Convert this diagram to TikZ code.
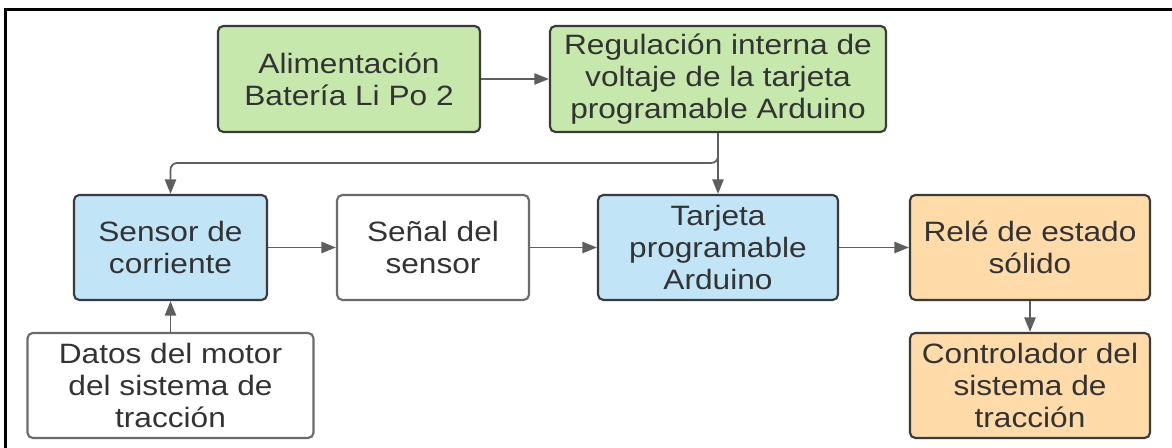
\documentclass[tikz,border=0pt]{standalone}
\usepackage{fontspec}
\setmainfont{Liberation Sans}[FakeStretch=1.13]
\usetikzlibrary{arrows.meta}
\definecolor{gfill}{HTML}{C7E8AC}
\definecolor{bfill}{HTML}{C1E4F7}
\definecolor{ofill}{HTML}{FFDBA9}
\definecolor{dborder}{HTML}{3A3A3A}
\definecolor{lborder}{HTML}{6B6B6B}
\definecolor{arrcol}{HTML}{5E5E5E}
\definecolor{txtcol}{HTML}{333333}
\tikzset{
  box/.style={rectangle, rounded corners=4pt, line width=1.6pt, draw=dborder,
    align=center, inner sep=0pt, text=txtcol,
    font=\fontsize{21pt}{24pt}\selectfont},
  greenbox/.style={box, fill=gfill},
  bluebox/.style={box, fill=bfill},
  orangebox/.style={box, fill=ofill},
  whitebox/.style={box, fill=white, draw=lborder},
  arr/.style={line width=1.3pt, draw=arrcol, -{Triangle[length=11pt,width=8.5pt]}},
}
\begin{document}
\begin{tikzpicture}[x=0.75pt,y=-0.75pt]
\useasboundingbox (0,0) rectangle (1172,448);
% outer frame (only top and left edges are visible)
\draw[line width=2.25pt, black] (5,448) -- (5,10) -- (1172,10);

\node[greenbox, minimum width=262*0.75pt, minimum height=106*0.75pt] (alim) at (349,79)
  {Alimentación\\Batería Li Po 2};
\node[greenbox, minimum width=336*0.75pt, minimum height=106*0.75pt] (reg) at (718,79)
  {Regulación interna de\\voltaje de la tarjeta\\programable Arduino};

\node[bluebox, minimum width=193*0.75pt, minimum height=105*0.75pt] (sensor) at (170.5,247.5)
  {Sensor de\\corriente};
\node[whitebox, minimum width=192*0.75pt, minimum height=105*0.75pt] (senal) at (433,247.5)
  {Señal del\\sensor};
\node[bluebox, minimum width=240*0.75pt, minimum height=105*0.75pt] (tarj) at (718,247.5)
  {Tarjeta\\programable\\Arduino};
\node[orangebox, minimum width=240*0.75pt, minimum height=105*0.75pt] (rele) at (1030,247.5)
  {Relé de estado\\sólido};
\node[orangebox, minimum width=240*0.75pt, minimum height=105*0.75pt] (ctrl) at (1030,385.5)
  {Controlador del\\sistema de\\tracción};
\node[whitebox, minimum width=286*0.75pt, minimum height=105*0.75pt] (datos) at (170.5,385.5)
  {Datos del motor\\del sistema de\\tracción};

\coordinate (bend) at (170.5,163);

\draw[arr] (alim.east) -- (reg.west);
\draw[arr] (reg.south) -- (tarj.north);
\draw[arr, rounded corners=5pt] (reg.south) |- (bend) -- (sensor.north);
\draw[arr] (sensor.east) -- (senal.west);
\draw[arr] (senal.east) -- (tarj.west);
\draw[arr] (tarj.east) -- (rele.west);
\draw[arr] (rele.south) -- (ctrl.north);
\draw[arr] (datos.north) -- (sensor.south);
\end{tikzpicture}
\end{document}
